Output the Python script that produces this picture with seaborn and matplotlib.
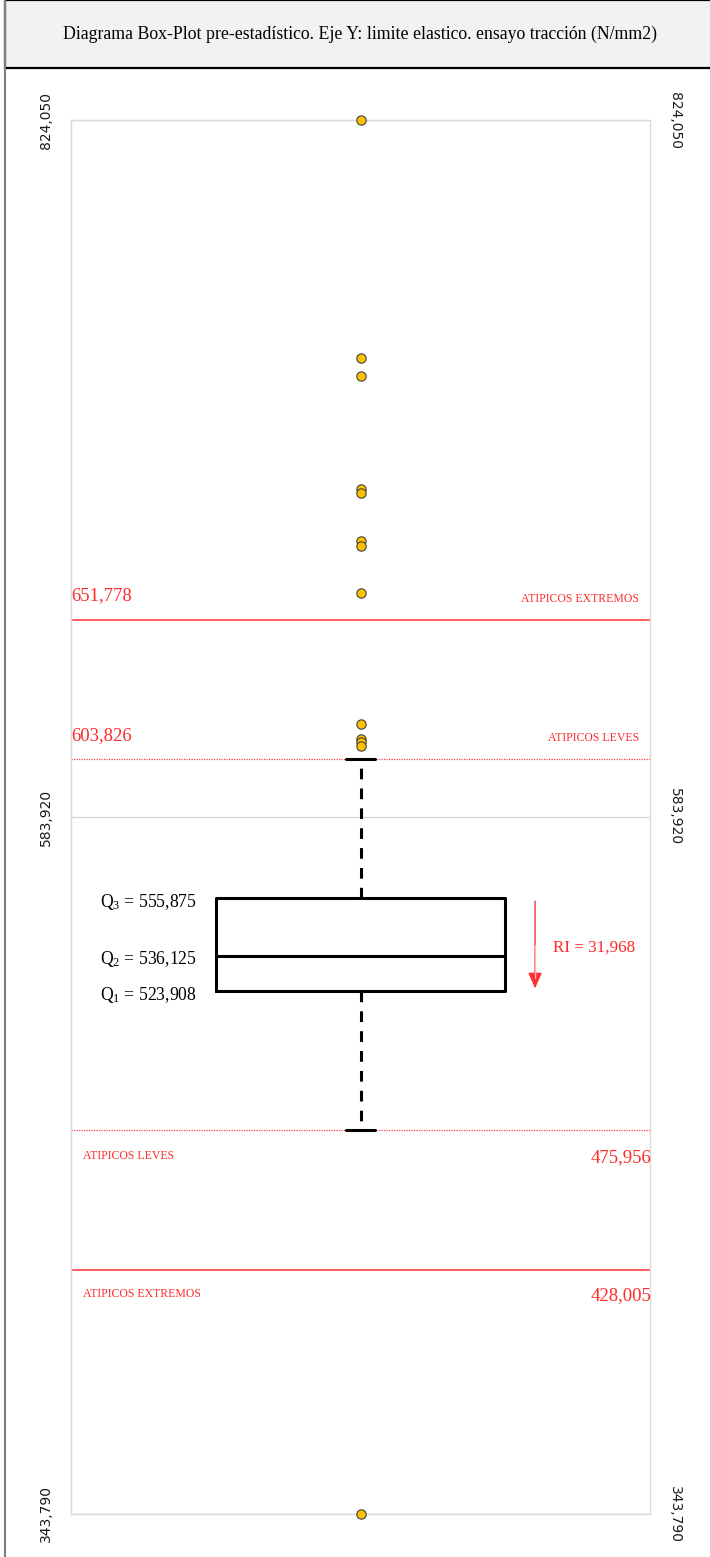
import matplotlib
matplotlib.use("Agg")
import matplotlib.pyplot as plt
from matplotlib.patches import Rectangle
from matplotlib.lines import Line2D
import numpy as np
import seaborn as sns

# values (N/mm2)
y_ticks = [343.790, 583.920, 824.050]
y_tick_labels = ["343,790", "583,920", "824,050"]

q1, q2, q3 = 523.908, 536.125, 555.875
ri = 31.968
fence_lo, fence_hi = 475.956, 603.826        # atipicos leves
extreme_lo, extreme_hi = 428.005, 651.778    # atipicos extremos

outliers = [824.05, 742.0, 735.9, 696.9, 695.6, 679.0, 677.4, 661.0,
            616.0, 610.8, 609.6, 608.4, 343.79]

title = "Diagrama Box-Plot pre-estadístico. Eje Y: limite elastico. ensayo tracción (N/mm2)"

red = "#ff2a2a"
serif = ["Liberation Serif", "DejaVu Serif"]

sns.set_theme(style="white")
plt.rcParams["font.family"] = ["DejaVu Sans"]
plt.rcParams["mathtext.fontset"] = "custom"
plt.rcParams["mathtext.rm"] = "Liberation Serif"
plt.rcParams["mathtext.it"] = "Liberation Serif:italic"

fig = plt.figure(figsize=(7.10, 15.57), dpi=100)
ax = fig.add_axes([71 / 710, 43 / 1557, 579 / 710, 1394 / 1557])

# header box + page border
fig.patches.append(Rectangle((5 / 710, 1 - 68 / 1557), 1.0, 68 / 1557, transform=fig.transFigure,
                             facecolor="#f2f2f2", edgecolor="black", lw=1.6, zorder=0))
fig.lines.append(Line2D([5 / 710, 5 / 710], [0, 1], transform=fig.transFigure, color="#7f7f7f", lw=1.5))
fig.text(360 / 710, 1 - 34 / 1557, title, ha="center", va="center", fontsize=12.8,
         family=serif, color="black")

# box from the quartiles, whiskers up to the fences
stats = [dict(med=q2, q1=q1, q3=q3, whislo=fence_lo, whishi=fence_hi, fliers=[])]
ax.bxp(stats, positions=[0], widths=1.0, capwidths=0.1, showfliers=False,
       boxprops=dict(color="black", lw=2.2),
       medianprops=dict(color="black", lw=2.2),
       whiskerprops=dict(color="black", lw=2.2, linestyle=(0, (3.5, 3))),
       capprops=dict(color="black", lw=2.2), manage_ticks=False)

sns.scatterplot(x=np.zeros(len(outliers)), y=outliers, ax=ax, s=45, color="#ffc000",
                edgecolor="#404040", linewidth=0.8, zorder=5, clip_on=False)

# fence lines
for v in [extreme_lo, extreme_hi]:
    ax.axhline(v, color="#ff5a5a", lw=1.4, zorder=1)
for v in [fence_lo, fence_hi]:
    ax.axhline(v, color="#ff4040", lw=0.9, linestyle=(0, (1, 1)), zorder=1)

ax.set_xlim(-1, 1)
ax.set_ylim(y_ticks[0], y_ticks[-1])
ax.set_xticks([])
ax.set_yticks(y_ticks)
ax.set_yticklabels(y_tick_labels)
ax.grid(axis="y", color="#d9d9d9", lw=1)
for s in ax.spines.values():
    s.set_color("#d9d9d9")
    s.set_linewidth(1)
ax.tick_params(axis="y", length=0, pad=13, labelsize=10, labelcolor="#1a1a1a",
               labelright=True, labelrotation=90)
for t in ax.yaxis.get_major_ticks():
    t.label1.set_va("center")
    t.label2.set_rotation(270)
    t.label2.set_va("center")
ax.set_xlabel("")
ax.set_ylabel("")

tr = ax.get_yaxis_transform()
# labels of the fences
ax.annotate("651,778", xy=(0.0, extreme_hi), xycoords=tr, xytext=(0, 17.5), textcoords="offset points",
            ha="left", va="center", color=red, fontsize=13.5, family=serif)
ax.annotate("ATIPICOS EXTREMOS", xy=(0.981, extreme_hi), xycoords=tr, xytext=(0, 15.5), textcoords="offset points",
            ha="right", va="center", color=red, fontsize=8.5, family=serif)
ax.annotate("603,826", xy=(0.0, fence_hi), xycoords=tr, xytext=(0, 17), textcoords="offset points",
            ha="left", va="center", color=red, fontsize=13.5, family=serif)
ax.annotate("ATIPICOS LEVES", xy=(0.981, fence_hi), xycoords=tr, xytext=(0, 15.5), textcoords="offset points",
            ha="right", va="center", color=red, fontsize=8.5, family=serif)
ax.annotate("ATIPICOS LEVES", xy=(0.021, fence_lo), xycoords=tr, xytext=(0, -18.5), textcoords="offset points",
            ha="left", va="center", color=red, fontsize=8.5, family=serif)
ax.annotate("475,956", xy=(1.003, fence_lo), xycoords=tr, xytext=(0, -19.5), textcoords="offset points",
            ha="right", va="center", color=red, fontsize=13.5, family=serif)
ax.annotate("ATIPICOS EXTREMOS", xy=(0.021, extreme_lo), xycoords=tr, xytext=(0, -17.5), textcoords="offset points",
            ha="left", va="center", color=red, fontsize=8.5, family=serif)
ax.annotate("428,005", xy=(1.003, extreme_lo), xycoords=tr, xytext=(0, -18.5), textcoords="offset points",
            ha="right", va="center", color=red, fontsize=13.5, family=serif)

# quartile labels
for n, v in [(3, q3), (2, q2), (1, q1)]:
    ax.annotate(r"Q$_{%d}$ = %s" % (n, ("%.3f" % v).replace(".", ",")), xy=(0.2176, v), xycoords=tr,
                xytext=(0, -2.5), textcoords="offset points",
                ha="right", va="center", fontsize=12.7, family=serif, color="black")

# interquartile range arrow
ax.annotate("", xy=(0.603, q1), xytext=(0.603, q3),
            arrowprops=dict(arrowstyle="-|>,head_length=0.8,head_width=0.35", color="#ff3030", lw=1))
ax.plot([0.603, 0.603], [(q1 + q3) / 2, q1 + 4.5], color="#ffb3b3", lw=1, zorder=3)
ax.annotate("RI = " + ("%.3f" % ri).replace(".", ","), xy=(0.665, (q1 + q3) / 2), xytext=(0, -2),
            textcoords="offset points", ha="left", va="center",
            fontsize=12.3, family=serif, color=red)

fig.savefig("out.png", dpi=100)
